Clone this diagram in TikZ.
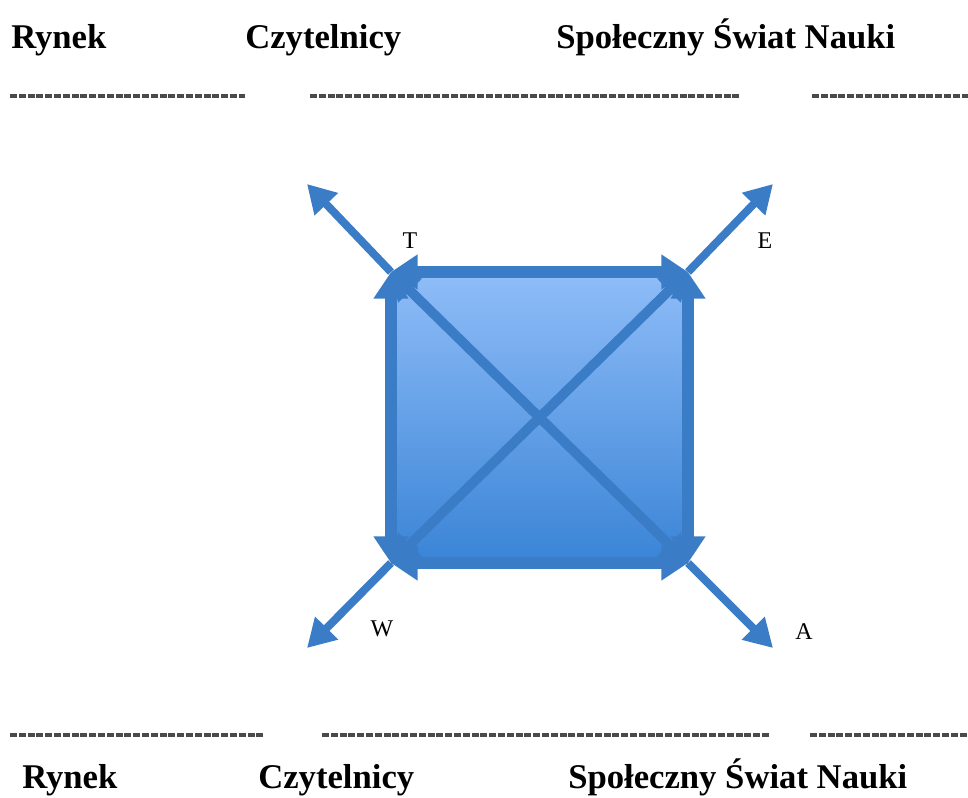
\documentclass[tikz,border=0pt]{standalone}
\usepackage{fontspec}
\setmainfont{Liberation Serif}
\usetikzlibrary{arrows.meta}
\definecolor{arrblue}{HTML}{3B7CC6}
\definecolor{sqtop}{HTML}{8FBDF8}
\definecolor{sqbot}{HTML}{3A84D6}
\definecolor{dashgray}{HTML}{4A4A4A}
\tikzset{
  heading/.style={anchor=base west, inner sep=0pt, font=\fontsize{26}{30}\selectfont\bfseries},
  corner label/.style={inner sep=0pt, font=\fontsize{18}{20}\selectfont},
  separator/.style={draw=dashgray, line width=2.3pt, dash pattern=on 5.2pt off 1.4pt},
  side arrow/.style={draw=arrblue, line width=8.3pt, {Triangle[width=25pt,length=20pt]}-{Triangle[width=25pt,length=20pt]}},
  diag arrow/.style={draw=arrblue, line width=7.3pt, {Triangle[width=24pt,length=20pt]}-{Triangle[width=24pt,length=20pt]}},
  out arrow/.style={draw=arrblue, line width=6pt, -{Triangle[width=23pt,length=21pt]}}
}

\begin{document}
\begin{tikzpicture}[x={(0.75pt,0)}, y={(0,-0.75pt)}]
  \useasboundingbox (0,0) rectangle (968,797);

  % headings and separators
  \node[heading] (rynekT) at (11,48) {Rynek};
  \node[heading] (czytT) at (245,48) {Czytelnicy};
  \node[heading] (swiatT) at (556,48) {Społeczny Świat Nauki};
  \draw[separator] (10,96) -- (245,96);
  \draw[separator] (310,96) -- (740,96);
  \draw[separator] (812,96) -- (968,96);

  \draw[separator] (10,735) -- (264,735);
  \draw[separator] (322,735) -- (770,735);
  \draw[separator] (810,735) -- (968,735);
  \node[heading] (rynekB) at (22,788) {Rynek};
  \node[heading] (czytB) at (258,788) {Czytelnicy};
  \node[heading] (swiatB) at (568,788) {Społeczny Świat Nauki};

  % corners of the square
  \coordinate (T) at (391,272);
  \coordinate (E) at (688,272);
  \coordinate (W) at (391,563);
  \coordinate (A) at (688,563);
  \coordinate (Tout) at (307,184);
  \coordinate (Eout) at (773,184);
  \coordinate (Wout) at (307,648);
  \coordinate (Aout) at (773,648);

  \shade[top color=sqtop, bottom color=sqbot] (T) rectangle (A);

  % sides
  \draw[side arrow] (T) -- (E);
  \draw[side arrow] (E) -- (A);
  \draw[side arrow] (A) -- (W);
  \draw[side arrow] (W) -- (T);
  % diagonals
  \draw[diag arrow] (T) -- (A);
  \draw[diag arrow] (W) -- (E);
  % outward
  \draw[out arrow] (T) -- (Tout);
  \draw[out arrow] (E) -- (Eout);
  \draw[out arrow] (W) -- (Wout);
  \draw[out arrow] (A) -- (Aout);

  \node[corner label] (labT) at (410,241) {T};
  \node[corner label] (labE) at (765,241) {E};
  \node[corner label] (labW) at (382,629) {W};
  \node[corner label] (labA) at (804,632) {A};
\end{tikzpicture}
\end{document}
